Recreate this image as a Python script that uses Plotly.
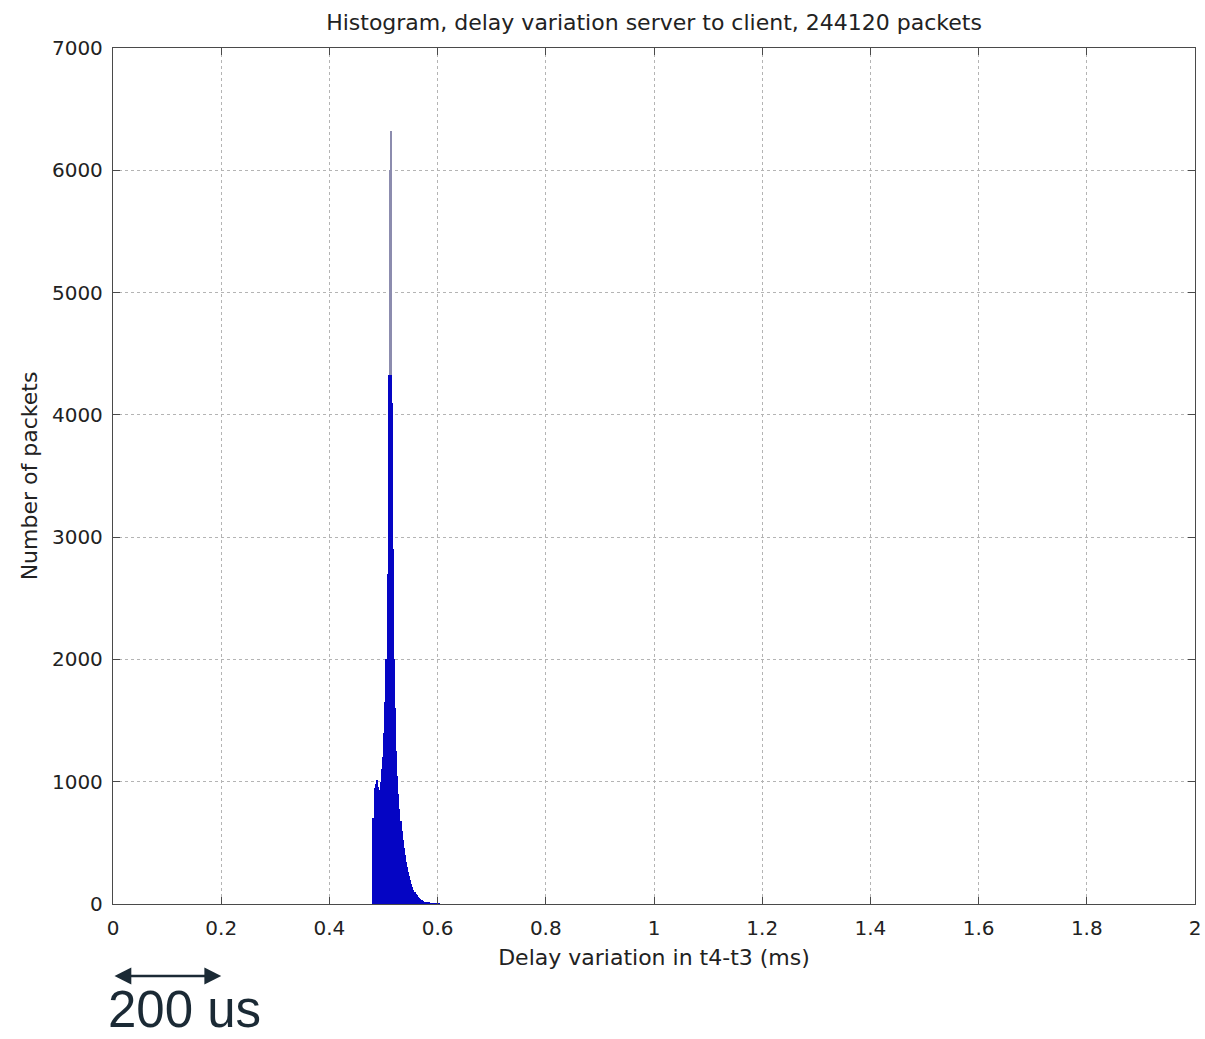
import numpy as np
import plotly.graph_objects as go

# Histogram of one-way delay variation (t4 - t3), bins of 2 us
bin_width = 0.002  # ms
bin_start = 0.4805  # ms, left edge of the first bin
counts = [
    700, 950, 980, 1010, 960, 900, 930, 1000, 1100, 1200,
    1400, 1650, 2000, 2700, 4330, 6000, 6320, 4100, 2900, 2000,
    1600, 1250, 1050, 900, 780, 680, 600, 520, 460, 400,
    340, 300, 260, 225, 195, 165, 140, 118, 100, 85,
    72, 60, 50, 42, 35, 29, 24, 20, 16, 13,
    11, 9, 7, 6, 5, 4, 3, 3, 2, 2,
    1, 1,
]
total_packets = 244120

x_ticks = [0, 0.2, 0.4, 0.6, 0.8, 1, 1.2, 1.4, 1.6, 1.8, 2]
x_tick_text = ["0", "0.2", "0.4", "0.6", "0.8", "1", "1.2", "1.4", "1.6", "1.8", "2"]
y_ticks = [0, 1000, 2000, 3000, 4000, 5000, 6000, 7000]

# scale bar under the x axis (0.2 ms)
scale_from, scale_to = 0.0, 0.2
scale_text = "200 us"

# level above which the densest bins render pale
pale_level = 4330

counts = np.array(counts, dtype=float)
centers = bin_start + bin_width * (np.arange(len(counts)) + 0.5)

FONT = "DejaVu Sans, Verdana, sans-serif"
SCALE_FONT = "Liberation Sans, Arial, sans-serif"
TXT = "#222222"
AX = "#4a4a4a"

fig = go.Figure()
fig.add_trace(go.Bar(
    x=centers, y=counts, width=bin_width,
    marker=dict(color="#8c8cae", line=dict(width=0)),
    hoverinfo="x+y", showlegend=False,
))
fig.add_trace(go.Bar(
    x=centers, y=np.minimum(counts, pale_level), width=bin_width,
    marker=dict(color="#0505c4", line=dict(width=0)),
    hoverinfo="skip", showlegend=False,
))

axis_common = dict(
    showline=True, linecolor=AX, linewidth=1.3, mirror="allticks",
    ticks="inside", ticklen=7, tickwidth=1.3, tickcolor=AX,
    showgrid=True, gridcolor="#b4b4b4", griddash="dot", gridwidth=1,
    zeroline=False, automargin=False,
    tickfont=dict(family=FONT, size=20, color=TXT),
)

fig.update_layout(
    width=1205, height=1039,
    margin=dict(l=113, r=10, t=48, b=135),
    paper_bgcolor="white", plot_bgcolor="white",
    barmode="overlay", bargap=0,
    title=dict(
        text=f"Histogram, delay variation server to client, {total_packets} packets",
        x=0.5, xref="paper", xanchor="center",
        y=1 - 22 / 1039, yref="container", yanchor="middle",
        font=dict(family=FONT, size=22, color=TXT),
    ),
    xaxis=dict(
        range=[0, 2], tickvals=x_ticks, ticktext=x_tick_text,
        ticklabelstandoff=6,
        title=dict(text="Delay variation in t4-t3 (ms)", standoff=10,
                   font=dict(family=FONT, size=22, color=TXT)),
        **axis_common,
    ),
    yaxis=dict(
        range=[0, 7000], tickvals=y_ticks,
        ticklabelstandoff=5,
        title=dict(text="Number of packets", standoff=8,
                   font=dict(family=FONT, size=22, color=TXT)),
        **axis_common,
    ),
)

# double-headed scale arrow and its label
fig.add_annotation(
    x=scale_to, y=-72 / 856, xref="x", yref="paper",
    ax=scale_from, ay=0, axref="x", ayref="pixel",
    showarrow=True, arrowhead=2, startarrowhead=2, arrowside="end+start",
    arrowsize=1.4, arrowwidth=2.4, arrowcolor="#1b2a35", text="",
)
fig.add_annotation(
    x=-0.0055, y=-135 / 856, xref="paper", yref="paper",
    xanchor="left", yanchor="bottom", showarrow=False, borderpad=0,
    text=scale_text, font=dict(family=SCALE_FONT, size=51, color="#1b2a35"),
)

fig.write_html("out.html")
